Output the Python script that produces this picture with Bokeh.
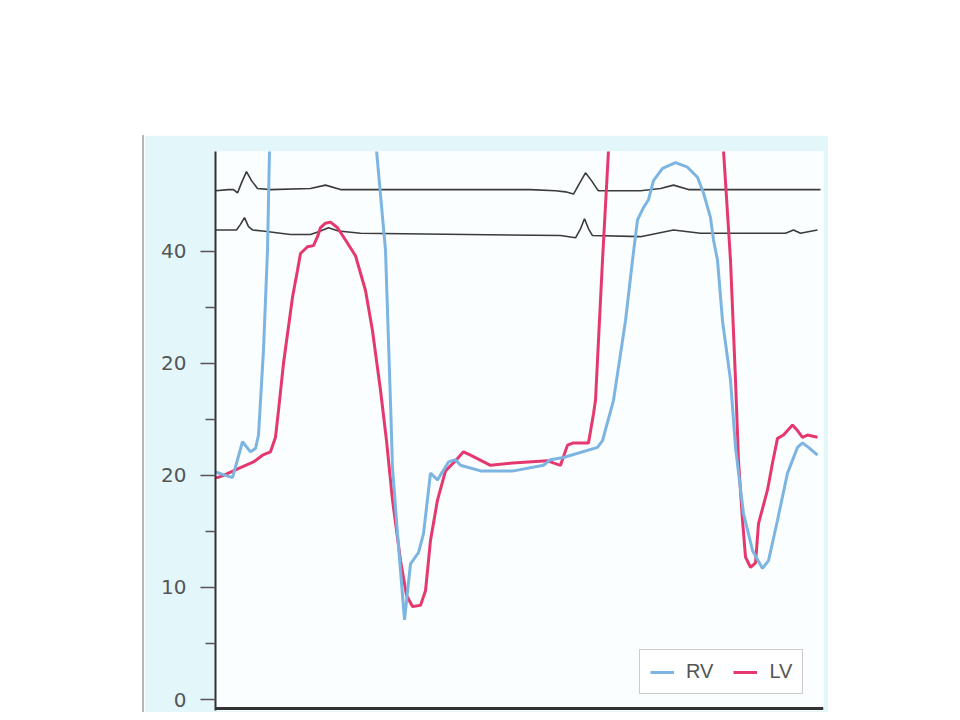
from bokeh.plotting import figure
from bokeh.models import Range1d, FixedTicker, Span, Spacer
from bokeh.layouts import row, column
from bokeh.embed import file_html
from bokeh.resources import INLINE

# ---- data (time in ms, pressure in mmHg) ----
rv_t = [0, 25, 42.5, 67.5, 87.5, 100, 107.5, 120, 130, 135, 150, 212.5, 275, 337.5, 382.5,
        402.5, 425, 437.5, 442.5, 455, 472.5, 487.5, 507.5, 520, 537.5, 555, 582.5, 600, 612.5,
        662.5, 745, 820, 837.5, 870, 955, 967.5, 995, 1025, 1042.5, 1055, 1070, 1082.5, 1095,
        1117.5, 1150, 1180, 1205, 1220, 1237.5, 1245, 1255, 1267.5, 1287.5, 1300, 1320, 1342.5,
        1367.5, 1382.5, 1405, 1430, 1455, 1467.5, 1482.5, 1505]
rv_mmHg = [20.3, 20.0, 19.8, 23.0, 22.1, 22.4, 23.6, 31.2, 40.1, 49.0, 58, 68, 71, 66, 56,
           49.0, 40.1, 26.5, 20.7, 14.8, 7.1, 12.1, 13.1, 14.8, 20.2, 19.6, 21.2, 21.4, 20.9,
           20.4, 20.4, 20.9, 21.4, 21.6, 22.5, 23.1, 26.7, 33.8, 39.2, 42.8, 43.9, 44.6, 46.3,
           47.4, 47.9, 47.5, 46.6, 45.2, 43.0, 41.0, 39.2, 33.8, 28.5, 22.5, 16.6, 13.3,
           11.7, 12.4, 16.0, 20.2, 22.5, 22.9, 22.5, 21.8]

lv_t = [0, 5, 20, 62.5, 95, 117.5, 137.5, 150, 157.5, 170, 192.5, 205, 212.5, 230, 245, 255,
        262.5, 275, 287.5, 305, 325, 350, 375, 392.5, 412.5, 427.5, 442.5, 462.5, 477.5, 492.5,
        512.5, 525, 537.5, 555, 575, 600, 620, 637.5, 687.5, 742.5, 830, 862.5, 880, 895, 932.5,
        945, 950, 967.5, 982.5, 1000, 1112.5, 1212.5, 1257.5, 1270, 1287.5, 1300, 1307.5,
        1317.5, 1325, 1337.5, 1350, 1357.5, 1380, 1392.5, 1405, 1420, 1442.5, 1455, 1467.5,
        1480, 1505]
lv_mmHg = [19.8, 19.8, 20.0, 20.7, 21.2, 21.8, 22.1, 23.4, 25.8, 30.0, 35.9, 38.3, 39.8, 40.4,
           40.5, 41.3, 42.1, 42.5, 42.6, 42.1, 41.0, 39.6, 36.5, 32.9, 27.6, 23.1, 17.8, 12.4,
           9.3, 8.3, 8.4, 9.7, 14.2, 17.8, 20.4, 21.3, 22.1, 21.8, 20.9, 21.1, 21.3, 20.9, 22.7,
           22.9, 22.9, 25.5, 26.7, 39.2, 49.0, 58, 72, 68, 57, 49.0, 39.2, 28.5, 21.3, 16.0,
           12.7, 11.8, 12.2, 15.7, 18.7, 21.1, 23.3, 23.6, 24.5, 24.0, 23.4, 23.6, 23.4]

ecg1_t = [0, 32.5, 45, 55, 65, 77.5, 90, 105, 137.5, 237.5, 275, 312.5, 337.5, 787.5, 850,
          875, 895, 907.5, 925, 940, 955, 957.5, 1062.5, 1112.5, 1145, 1182.5, 1512.5]
ecg1_v = [45.4, 45.5, 45.5, 45.2, 46.1, 47.1, 46.3, 45.6, 45.5, 45.6, 45.9, 45.5, 45.5, 45.5,
          45.4, 45.3, 45.1, 45.9, 47.0, 46.3, 45.5, 45.4, 45.4, 45.6, 45.9, 45.5, 45.5]

ecg2_t = [0, 52.5, 62.5, 72.5, 82.5, 92.5, 117.5, 187.5, 237.5, 262.5, 282.5, 307.5, 362.5,
          862.5, 900, 912.5, 922.5, 932.5, 942.5, 1062.5, 1145, 1212.5, 1425, 1445, 1462.5,
          1475, 1505]
ecg2_v = [41.9, 41.9, 42.4, 43.0, 42.2, 41.9, 41.8, 41.5, 41.5, 41.8, 42.1, 41.8, 41.6,
          41.4, 41.2, 42.0, 42.9, 42.0, 41.4, 41.3, 41.9, 41.6, 41.6, 41.9, 41.6, 41.7, 41.9]

y_ticks = [0, 10, 20, 30, 40]
y_tick_labels = ["0", "10", "20", "20", "40"]
y_minor_ticks = [5, 15, 25, 35]

RV_COLOR = "#7cb5e2"
LV_COLOR = "#e5386f"
ECG_COLOR = "#3b3b3b"
PANEL = "#e3f6fa"

p = figure(width=684, height=577, output_backend="svg", toolbar_location=None,
           x_range=Range1d(0, 1520), y_range=Range1d(-0.98, 48.9),
           x_axis_location=None,
           min_border_left=71, min_border_right=5, min_border_top=16, min_border_bottom=2,
           background_fill_color="#fbfefe", border_fill_color=PANEL)
p.grid.visible = False
p.outline_line_color = None

p.line(ecg1_t, ecg1_v, line_color=ECG_COLOR, line_width=1.6)
p.line(ecg2_t, ecg2_v, line_color=ECG_COLOR, line_width=1.6)
p.line(lv_t, lv_mmHg, line_color=LV_COLOR, line_width=3, legend_label="LV")
p.line(rv_t, rv_mmHg, line_color=RV_COLOR, line_width=3, legend_label="RV")

p.add_layout(Span(location=-0.8, dimension="width", line_color="#333333", line_width=3))

ax = p.yaxis[0]
ax.ticker = FixedTicker(ticks=y_ticks, minor_ticks=y_minor_ticks)
ax.major_label_overrides = {t: l for t, l in zip(y_ticks, y_tick_labels)}
ax.axis_line_color = "#333333"
ax.axis_line_width = 2
ax.major_tick_line_color = "#555555"
ax.major_tick_line_width = 1.5
ax.major_tick_out = 15
ax.major_tick_in = 0
ax.minor_tick_line_color = "#555555"
ax.minor_tick_line_width = 1.5
ax.minor_tick_out = 10
ax.minor_tick_in = 0
ax.major_label_standoff = 14
ax.major_label_text_font = "DejaVu Sans"
ax.major_label_text_font_size = "20px"
ax.major_label_text_color = "#555555"

leg = p.legend[0]
leg.items = list(reversed(leg.items))
leg.orientation = "horizontal"
leg.location = (424, 16)
leg.glyph_width = 24
leg.glyph_height = 20
leg.label_standoff = 12
leg.spacing = 20
leg.padding = 10
leg.margin = 0
leg.label_text_font = "Liberation Sans"
leg.label_text_font_size = "20px"
leg.label_text_color = "#555555"
leg.border_line_color = "#9a9a9a"
leg.border_line_width = 1
leg.background_fill_color = "white"
leg.background_fill_alpha = 1.0

edge = Spacer(width=2, height=577, styles={"background-color": "#b5b5b5"})
layout = row(Spacer(width=142, height=10),
             column(Spacer(width=10, height=135), row(edge, p)))

open("out.html", "w").write(file_html(layout, INLINE))
